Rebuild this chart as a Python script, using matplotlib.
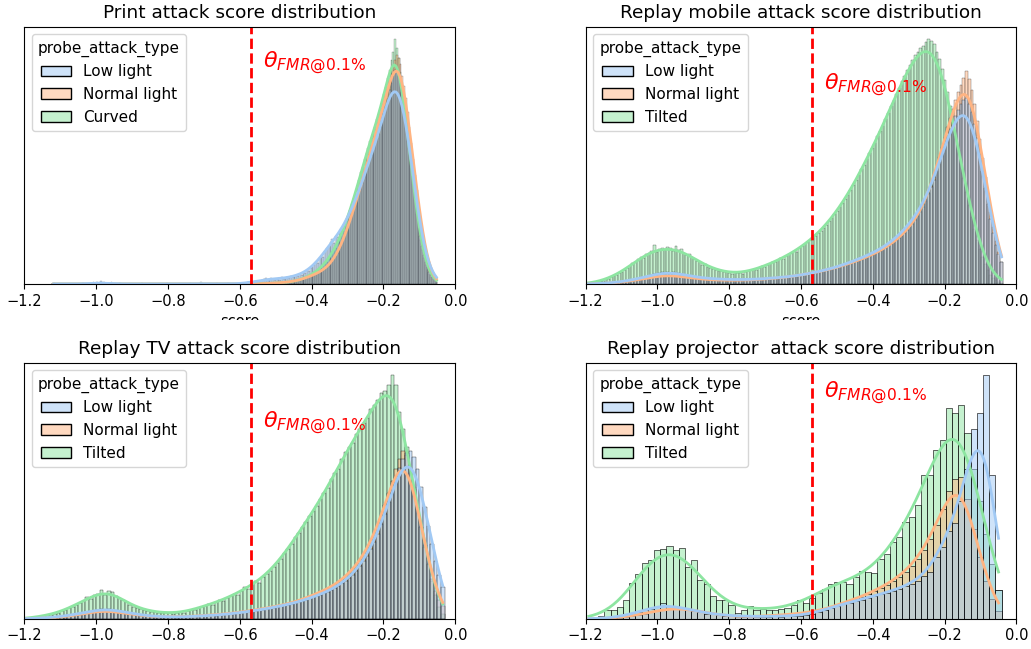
"""
Attack score distributions (print / replay mobile / replay TV / replay projector)
per probe_attack_type, histogram + KDE, with the FMR@0.1% threshold.
"""

import numpy as np
import pandas as pd
import matplotlib
matplotlib.use("Agg")
import matplotlib.pyplot as plt
import matplotlib.transforms as mtransforms
from matplotlib.patches import Rectangle
import seaborn as sns


# ============================================================================
# DATA  (bin counts, arbitrary units)
# ============================================================================

THRESHOLD = -0.57
HUE_COL = "probe_attack_type"

# --- Print attack: bins of 0.005 from -0.600 -------------------------------
PRINT_START, PRINT_WIDTH = -0.600, 0.005
PRINT_LOW = [
    1, 0, 1, 1, 2, 1, 2, 2, 3, 2,
    3, 2, 4, 5, 6, 4, 5, 6, 5, 4,
    5, 6, 4, 7, 5, 6, 7, 6, 8, 7,
    7, 9, 8, 10, 9, 12, 11, 14, 13, 16,
    17, 19, 22, 21, 26, 29, 27, 33, 36, 38,
    42, 45, 41, 48, 47, 52, 55, 53, 60, 64,
    68, 71, 74, 80, 82, 88, 93, 97, 104, 110,
    116, 120, 126, 129, 134, 141, 146, 150, 157, 164,
    172, 178, 185, 194, 201, 208, 214, 212, 208, 201,
    192, 182, 170, 157, 142, 126, 108, 92, 77, 63,
    48, 38, 29, 22, 17, 12, 9, 7, 5, 3,
]
PRINT_NORMAL = [
    0, 0, 0, 0, 0, 0, 1, 0, 0, 0,
    0, 0, 1, 0, 0, 1, 0, 1, 1, 1,
    1, 1, 1, 2, 1, 2, 2, 2, 3, 2,
    3, 3, 4, 4, 5, 5, 6, 7, 7, 8,
    9, 9, 10, 11, 12, 13, 14, 15, 17, 18,
    20, 22, 25, 28, 31, 35, 39, 43, 48, 53,
    58, 63, 69, 75, 81, 87, 93, 99, 105, 112,
    118, 124, 130, 136, 142, 148, 155, 162, 168, 175,
    182, 188, 195, 203, 210, 218, 224, 229, 226, 220,
    208, 198, 186, 172, 157, 141, 125, 109, 94, 79,
    64, 51, 39, 29, 21, 15, 10, 7, 4, 2,
]
PRINT_CURVED = [
    0, 0, 0, 0, 1, 0, 0, 0, 1, 0,
    0, 1, 0, 0, 1, 0, 1, 0, 1, 1,
    1, 1, 2, 1, 1, 2, 2, 1, 3, 2,
    3, 3, 4, 5, 4, 6, 7, 6, 8, 9,
    10, 12, 11, 14, 16, 15, 19, 21, 22, 26,
    28, 31, 34, 36, 41, 45, 48, 53, 58, 63,
    68, 74, 80, 86, 90, 98, 104, 112, 117, 125,
    131, 136, 143, 146, 152, 157, 165, 170, 176, 184,
    190, 197, 206, 214, 224, 232, 245, 236, 226, 212,
    198, 182, 166, 150, 132, 116, 100, 84, 70, 56,
    44, 34, 26, 19, 14, 10, 7, 5, 3, 2,
]
# a few low-light outliers far to the left
PRINT_LOW_TAIL_SCORES = [-1.118, -1.04, -1.01, -1.0, -0.99, -0.98, -0.96,
                         -0.93, -0.87, -0.80, -0.74, -0.71, -0.66, -0.63]
PRINT_LOW_TAIL_COUNTS = [1, 1, 2, 2, 3, 2, 2, 1, 1, 1, 1, 2, 1, 1]

# --- Replay mobile: bins of 0.0075 from -1.2 -------------------------------
MOBILE_START, MOBILE_WIDTH = -1.2, 0.0075
MOBILE_LOW = [
    0, 0, 0, 0, 1, 0, 1, 1, 1, 1,
    1, 2, 2, 2, 3, 3, 4, 4, 5, 5,
    6, 7, 7, 8, 9, 10, 9, 11, 12, 11,
    12, 11, 12, 10, 11, 10, 9, 9, 8, 8,
    7, 7, 6, 6, 6, 5, 6, 5, 5, 5,
    5, 4, 5, 4, 5, 4, 4, 5, 4, 5,
    4, 5, 5, 4, 5, 5, 6, 5, 6, 6,
    6, 7, 6, 7, 7, 8, 7, 8, 8, 9,
    9, 10, 10, 11, 11, 12, 12, 13, 14, 14,
    15, 16, 16, 17, 18, 19, 20, 21, 22, 23,
    24, 25, 26, 27, 28, 30, 31, 32, 33, 35,
    36, 38, 40, 42, 44, 46, 49, 51, 54, 57,
    60, 64, 67, 71, 75, 80, 85, 91, 97, 104,
    113, 122, 131, 140, 148, 155, 162, 168, 174, 180,
    184, 186, 180, 172, 160, 146, 130, 113, 96, 80,
    65, 51, 39, 30, 22,
]
MOBILE_NORMAL = [
    0, 0, 0, 0, 0, 1, 0, 1, 1, 1,
    1, 1, 2, 2, 2, 3, 3, 3, 4, 4,
    5, 5, 6, 6, 7, 7, 8, 8, 8, 9,
    9, 8, 9, 8, 8, 7, 7, 7, 6, 6,
    6, 5, 5, 5, 5, 4, 4, 4, 4, 4,
    4, 4, 3, 4, 4, 4, 3, 4, 4, 4,
    4, 4, 4, 5, 4, 5, 5, 5, 6, 5,
    6, 6, 7, 6, 7, 7, 8, 8, 8, 9,
    9, 10, 10, 11, 11, 12, 12, 13, 13, 14,
    15, 15, 16, 17, 18, 18, 19, 20, 21, 22,
    23, 24, 25, 26, 27, 28, 29, 31, 32, 33,
    35, 36, 38, 40, 42, 44, 46, 48, 51, 54,
    57, 60, 64, 68, 72, 77, 83, 90, 98, 107,
    117, 127, 137, 147, 157, 166, 175, 184, 192, 199,
    206, 213, 205, 194, 180, 163, 145, 126, 107, 89,
    72, 57, 43, 32, 22,
]
MOBILE_TILTED = [
    1, 0, 1, 2, 2, 3, 3, 5, 5, 7,
    8, 9, 11, 12, 14, 16, 18, 21, 22, 25,
    27, 26, 30, 31, 33, 39, 32, 35, 36, 34,
    37, 36, 33, 38, 34, 35, 31, 29, 30, 27,
    25, 23, 22, 19, 20, 17, 16, 15, 14, 13,
    13, 12, 12, 11, 10, 12, 11, 11, 10, 12,
    13, 14, 15, 14, 16, 18, 17, 19, 20, 22,
    22, 24, 26, 25, 28, 30, 31, 33, 32, 36,
    38, 40, 42, 44, 46, 48, 51, 53, 56, 59,
    63, 66, 70, 73, 77, 81, 85, 89, 94, 99,
    104, 109, 115, 119, 125, 131, 136, 141, 148, 153,
    158, 165, 171, 178, 184, 190, 196, 203, 208, 214,
    219, 224, 229, 232, 236, 238, 242, 245, 243, 240,
    232, 225, 215, 204, 192, 178, 163, 148, 134, 120,
    106, 92, 79, 67, 55, 44, 35, 27, 20, 14,
    9, 6, 4, 2, 1,
]

# --- Replay TV: bins of 0.01 from -1.2 -------------------------------------
TV_START, TV_WIDTH = -1.2, 0.01
TV_LOW = [
    0, 0, 0, 1, 0, 1, 1, 1, 2, 2,
    2, 3, 3, 4, 5, 5, 6, 7, 7, 8,
    9, 10, 9, 10, 9, 8, 8, 7, 6, 6,
    5, 4, 4, 3, 3, 3, 2, 2, 2, 2,
    2, 2, 1, 2, 2, 2, 2, 3, 2, 3,
    3, 3, 4, 3, 4, 4, 5, 5, 5, 6,
    6, 7, 7, 8, 8, 9, 9, 10, 11, 11,
    12, 13, 14, 14, 15, 16, 17, 18, 19, 21,
    22, 23, 24, 26, 27, 29, 31, 33, 36, 38,
    41, 44, 48, 53, 58, 63, 70, 77, 85, 95,
    105, 117, 128, 140, 151, 160, 166, 168, 162, 150,
    132, 112, 93, 75, 58, 44, 32,
]
TV_NORMAL = [
    0, 0, 0, 0, 1, 0, 1, 1, 1, 1,
    2, 2, 3, 3, 4, 4, 5, 6, 6, 7,
    7, 8, 8, 8, 7, 7, 6, 6, 5, 5,
    4, 4, 3, 3, 3, 2, 2, 2, 2, 2,
    2, 2, 2, 2, 2, 2, 3, 2, 3, 3,
    3, 4, 4, 4, 4, 5, 5, 5, 6, 6,
    7, 7, 8, 8, 9, 9, 10, 11, 11, 12,
    13, 13, 14, 15, 16, 17, 18, 19, 21, 22,
    24, 25, 27, 28, 30, 32, 34, 36, 39, 42,
    45, 49, 53, 58, 63, 69, 76, 84, 93, 103,
    114, 126, 138, 150, 160, 168, 164, 150, 132, 112,
    92, 72, 55, 40, 28, 19, 13,
]
TV_TILTED = [
    0, 1, 1, 2, 2, 3, 4, 4, 5, 6,
    8, 9, 11, 12, 14, 16, 18, 22, 20, 24,
    25, 29, 24, 28, 27, 23, 21, 19, 17, 14,
    12, 11, 10, 9, 8, 7, 7, 6, 6, 6,
    6, 5, 6, 7, 6, 8, 9, 9, 11, 12,
    13, 15, 14, 17, 19, 18, 21, 23, 25, 24,
    28, 32, 30, 35, 38, 36, 42, 45, 48, 52,
    56, 60, 66, 70, 75, 82, 86, 92, 97, 103,
    108, 113, 120, 126, 131, 140, 146, 150, 160, 167,
    172, 176, 185, 190, 196, 201, 210, 214, 219, 226,
    228, 234, 244, 234, 207, 190, 172, 150, 130, 110,
    92, 74, 55, 38, 24, 12, 5,
]

# --- Replay projector: bins of 0.0173 from -1.2 ----------------------------
PROJ_START, PROJ_WIDTH = -1.2, 0.0173
PROJ_LOW = [
    0, 0, 0, 1, 1, 2, 3, 5, 7, 9,
    10, 12, 16, 13, 12, 11, 10, 8, 7, 5,
    5, 4, 3, 3, 3, 2, 3, 2, 2, 2,
    3, 2, 3, 3, 3, 4, 5, 7, 9, 11,
    13, 15, 16, 18, 19, 21, 23, 25, 26, 28,
    30, 33, 35, 38, 43, 47, 62, 72, 88, 96,
    118, 150, 190, 206, 244, 144, 29,
]
PROJ_NORMAL = [
    0, 0, 0, 0, 1, 1, 2, 3, 4, 5,
    7, 8, 9, 10, 11, 10, 9, 9, 7, 6,
    5, 4, 3, 3, 2, 2, 2, 2, 3, 3,
    3, 4, 4, 5, 5, 6, 7, 8, 9, 11,
    14, 16, 18, 20, 22, 25, 28, 31, 34, 38,
    42, 47, 53, 60, 69, 80, 94, 110, 128, 140,
    142, 120, 90, 62, 38, 20, 8,
]
PROJ_TILTED = [
    0, 1, 3, 9, 9, 12, 19, 36, 45, 56,
    59, 69, 70, 73, 69, 71, 52, 59, 39, 35,
    23, 19, 19, 14, 6, 9, 13, 9, 10, 9,
    9, 10, 11, 14, 19, 16, 21, 26, 30, 35,
    37, 37, 35, 42, 48, 47, 46, 60, 65, 77,
    82, 97, 102, 114, 144, 144, 169, 179, 211, 206,
    214, 186, 150, 118, 85, 55, 29,
]


# ============================================================================
# HELPERS
# ============================================================================

def make_frame(start, width, series):
    """Turn per-bin counts into a weighted long frame (one row per bin)."""
    parts = []
    for label, counts in series:
        centers = start + width * (np.arange(len(counts)) + 0.5)
        parts.append(pd.DataFrame({"score": centers, "count": counts,
                                   HUE_COL: label}))
    return pd.concat(parts, ignore_index=True)


def draw_panel(ax, df, edges, order, title, bw, label_y, xlabel):
    sns.histplot(data=df, x="score", weights="count", hue=HUE_COL,
                 hue_order=order, palette="pastel", bins=list(edges),
                 common_norm=False, kde=True, kde_kws={"bw_method": bw},
                 line_kws={"linewidth": 2}, ax=ax)
    ax.axvline(THRESHOLD, color="red", linestyle="--", linewidth=2)
    trans = mtransforms.blended_transform_factory(ax.transData, ax.transAxes)
    ax.text(-0.535, label_y, r"$\theta_{FMR@0.1\%}$", color="red",
            fontsize=16, va="center", ha="left", transform=trans)
    ax.set_xlim(-1.2, 0.0)
    ax.set_xticks(np.arange(-1.2, 0.01, 0.2))
    ax.tick_params(axis="x", labelsize=10.5)
    ax.set_yticks([])
    ax.set_ylabel("")
    ax.set_xlabel(xlabel, fontsize=10.5)
    ax.set_title(title, fontsize=13.3)
    sns.move_legend(ax, "upper left", fontsize=11, title_fontsize=11)


# ============================================================================
# PLOT
# ============================================================================

fig = plt.figure(figsize=(10.31, 6.49), dpi=100)
ax_print = fig.add_axes([0.02357, 0.56240, 0.41804, 0.39646])
ax_mobile = fig.add_axes([0.56809, 0.56240, 0.41765, 0.39646])
ax_tv = fig.add_axes([0.02357, 0.04669, 0.41804, 0.39445])
ax_proj = fig.add_axes([0.56809, 0.04669, 0.41765, 0.39445])

light = ["Low light", "Normal light"]

# print
df = make_frame(PRINT_START, PRINT_WIDTH, [("Low light", PRINT_LOW),
                                           ("Normal light", PRINT_NORMAL),
                                           ("Curved", PRINT_CURVED)])
tail = pd.DataFrame({"score": PRINT_LOW_TAIL_SCORES,
                     "count": PRINT_LOW_TAIL_COUNTS, HUE_COL: "Low light"})
df = pd.concat([df, tail], ignore_index=True)
edges = np.linspace(-1.125, PRINT_START + PRINT_WIDTH * len(PRINT_LOW), 216)
draw_panel(ax_print, df, edges, light + ["Curved"],
           "Print attack score distribution", 0.22, 0.859, "score")

# replay mobile
df = make_frame(MOBILE_START, MOBILE_WIDTH, [("Low light", MOBILE_LOW),
                                             ("Normal light", MOBILE_NORMAL),
                                             ("Tilted", MOBILE_TILTED)])
n = len(MOBILE_LOW)
edges = np.linspace(MOBILE_START, MOBILE_START + MOBILE_WIDTH * n, n + 1)
draw_panel(ax_mobile, df, edges, light + ["Tilted"],
           "Replay mobile attack score distribution", 0.12, 0.773, "score")

# replay TV
df = make_frame(TV_START, TV_WIDTH, [("Low light", TV_LOW),
                                     ("Normal light", TV_NORMAL),
                                     ("Tilted", TV_TILTED)])
n = len(TV_LOW)
edges = np.linspace(TV_START, TV_START + TV_WIDTH * n, n + 1)
draw_panel(ax_tv, df, edges, light + ["Tilted"],
           "Replay TV attack score distribution", 0.12, 0.763, "")

# replay projector
df = make_frame(PROJ_START, PROJ_WIDTH, [("Low light", PROJ_LOW),
                                         ("Normal light", PROJ_NORMAL),
                                         ("Tilted", PROJ_TILTED)])
n = len(PROJ_LOW)
edges = np.linspace(PROJ_START, PROJ_START + PROJ_WIDTH * n, n + 1)
draw_panel(ax_proj, df, edges, light + ["Tilted"],
           "Replay projector  attack score distribution", 0.14, 0.880, "")

# the source image cuts the upper x labels off half way
fig.add_artist(Rectangle((0, 0.4815), 1, 0.025, transform=fig.transFigure,
                         facecolor="white", edgecolor="none", zorder=10))

fig.savefig("out.png", dpi=100)
